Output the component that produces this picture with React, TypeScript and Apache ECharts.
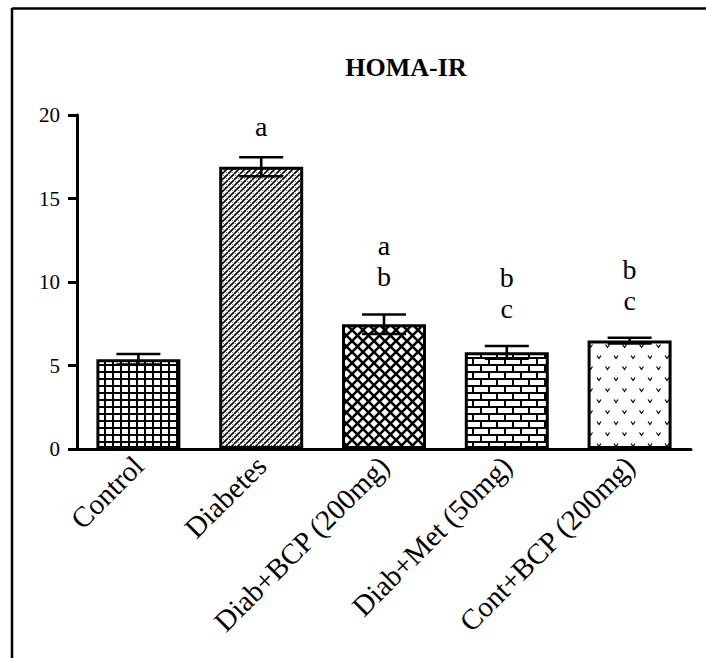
import React, { useEffect, useRef } from "react";
import * as echarts from "echarts";

const categories = ["Control", "Diabetes", "Diab+BCP (200mg)", "Diab+Met (50mg)", "Cont+BCP (200mg)"];
const means = [5.37, 16.9, 7.47, 5.79, 6.49];
const sems = [0.32, 0.57, 0.58, 0.38, 0.17];
const sigLetters = ["", "a", "a\nb", "b\nc", "b\nc"];
const letterBase = [0, 19.3, 10.3, 8.44, 8.92];
const yMin = 0;
const yMax = 20;
const yInterval = 5;
const titleText = "HOMA-IR";

function makeTile(w: number, h: number, draw: (ctx: CanvasRenderingContext2D) => void) {
  const c = document.createElement("canvas");
  c.width = w;
  c.height = h;
  const ctx = c.getContext("2d")!;
  ctx.fillStyle = "#fff";
  ctx.fillRect(0, 0, w, h);
  ctx.fillStyle = "#000";
  ctx.strokeStyle = "#000";
  draw(ctx);
  return c;
}

function patterns() {
  const grid = makeTile(8, 7, (ctx) => {
    ctx.fillRect(0, 0, 2, 7);
    ctx.fillRect(0, 0, 8, 2);
  });
  const hatch = makeTile(6, 6, (ctx) => {
    ctx.lineWidth = 1.6;
    for (const o of [-6, 0, 6]) {
      ctx.beginPath();
      ctx.moveTo(o, 6);
      ctx.lineTo(o + 6, 0);
      ctx.stroke();
    }
    ctx.fillStyle = "#777";
    ctx.fillRect(1, 1, 1, 1);
    ctx.fillRect(4, 4, 1, 1);
  });
  const cross = makeTile(11, 11, (ctx) => {
    ctx.lineWidth = 2.6;
    for (const o of [-11, 0, 11]) {
      ctx.beginPath();
      ctx.moveTo(o, 0);
      ctx.lineTo(o + 11, 11);
      ctx.stroke();
      ctx.beginPath();
      ctx.moveTo(o + 11, 0);
      ctx.lineTo(o, 11);
      ctx.stroke();
    }
  });
  const brick = makeTile(16, 14, (ctx) => {
    ctx.fillRect(0, 0, 16, 2);
    ctx.fillRect(0, 7, 16, 2);
    ctx.fillRect(0, 0, 2, 7);
    ctx.fillRect(8, 7, 2, 7);
  });
  const vees = makeTile(17, 22, (ctx) => {
    ctx.lineWidth = 1.2;
    const v = (x: number, y: number) => {
      ctx.beginPath();
      ctx.moveTo(x - 2, y - 1.5);
      ctx.lineTo(x, y + 1.5);
      ctx.lineTo(x + 2, y - 1.5);
      ctx.stroke();
    };
    v(4, 5);
    v(12.5, 16);
  });
  return [grid, hatch, cross, brick, vees];
}

export default function App() {
  const ref = useRef<HTMLDivElement>(null);
  useEffect(() => {
    if (!ref.current) return;
    const chart = echarts.init(ref.current, null, { renderer: "svg" });
    const pats = patterns();
    const serif = "Liberation Serif";
    chart.setOption({
      animation: false,
      grid: { left: 77, right: 15, top: 115, bottom: 209, containLabel: false },
      graphic: [
        { type: "line", shape: { x1: 12, y1: 8.5, x2: 706, y2: 8.5 }, style: { stroke: "#000", lineWidth: 2.5 } },
        { type: "line", shape: { x1: 12, y1: 8, x2: 12, y2: 658 }, style: { stroke: "#000", lineWidth: 2.5 } },
        {
          type: "text",
          x: 406,
          y: 67,
          style: {
            text: titleText,
            font: `bold 26px "${serif}"`,
            fill: "#000",
            align: "center",
            verticalAlign: "middle",
          },
        },
      ],
      xAxis: {
        type: "category",
        data: categories,
        axisLine: { lineStyle: { color: "#000", width: 3 } },
        axisTick: { alignWithLabel: true, length: 10, lineStyle: { color: "#000", width: 3 } },
        axisLabel: {
          interval: 0,
          rotate: 45,
          margin: 12,
          color: "#000",
          fontFamily: serif,
          fontSize: 29,
        },
      },
      yAxis: {
        type: "value",
        min: yMin,
        max: yMax,
        interval: yInterval,
        splitLine: { show: false },
        axisLine: { show: true, lineStyle: { color: "#000", width: 3 } },
        axisTick: { show: true, length: 9, lineStyle: { color: "#000", width: 3 } },
        axisLabel: { color: "#000", fontFamily: serif, fontSize: 21, margin: 17 },
      },
      series: [
        {
          type: "bar",
          barWidth: 84,
          data: means.map((m, i) => ({
            value: m,
            itemStyle: {
              color: { image: pats[i], repeat: "repeat" },
              borderColor: "#000",
              borderWidth: 3,
            },
          })),
        },
        {
          type: "custom",
          clip: false,
          data: means.map((m, i) => [i, m - sems[i], m + sems[i]]),
          renderItem: (params: any, api: any) => {
            const top = api.coord([api.value(0), api.value(2)]);
            const bot = api.coord([api.value(0), api.value(1)]);
            const hw = 22;
            const st = { stroke: "#000", lineWidth: 2.6 };
            return {
              type: "group",
              children: [
                { type: "line", shape: { x1: top[0], y1: top[1], x2: bot[0], y2: bot[1] }, style: st },
                { type: "line", shape: { x1: top[0] - hw, y1: top[1], x2: top[0] + hw, y2: top[1] }, style: st },
                { type: "line", shape: { x1: bot[0] - hw, y1: bot[1], x2: bot[0] + hw, y2: bot[1] }, style: st },
              ],
            };
          },
          z: 5,
        },
        {
          type: "custom",
          clip: false,
          data: letterBase.map((b, i) => [i, b]),
          renderItem: (params: any, api: any) => {
            const i = api.value(0);
            const p = api.coord([i, api.value(1)]);
            const lines = sigLetters[i] ? sigLetters[i].split("\n") : [];
            return {
              type: "group",
              children: lines.map((t, j) => ({
                type: "text",
                x: p[0],
                y: p[1] - (lines.length - 1 - j) * 31,
                style: {
                  text: t,
                  font: `28px "${serif}"`,
                  fill: "#000",
                  align: "center",
                  verticalAlign: "middle",
                },
              })),
            };
          },
          z: 6,
        },
      ],
    });
    return () => chart.dispose();
  }, []);
  return (
    <div
      ref={ref}
      style={{ position: "absolute", left: 0, top: 0, width: 706, height: 658, background: "#fff" }}
    />
  );
}
